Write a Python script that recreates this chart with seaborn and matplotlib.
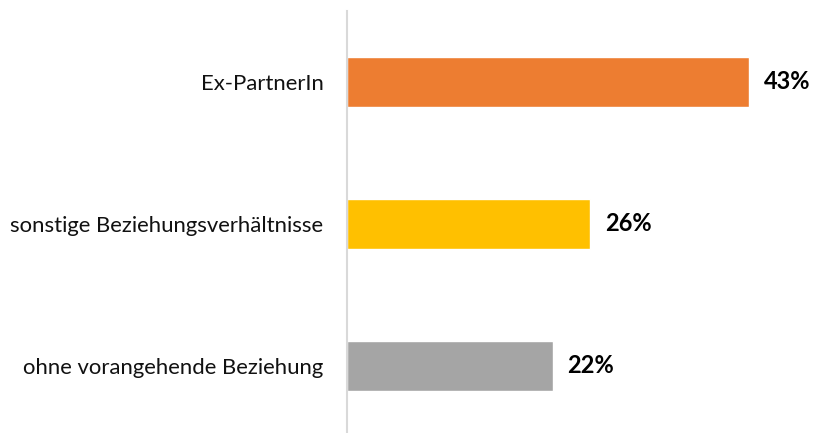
import matplotlib
matplotlib.use("Agg")
import matplotlib.pyplot as plt
import seaborn as sns
import pandas as pd

# data
categories = ["Ex-PartnerIn", "sonstige Beziehungsverhältnisse", "ohne vorangehende Beziehung"]
values = [43, 26, 22]
bar_colors = ["#ED7D31", "#FFC000", "#A5A5A5"]

df = pd.DataFrame({"kategorie": categories, "anteil": values})

sns.set_style("white")
plt.rcParams["font.family"] = ["Lato", "DejaVu Sans"]

fig = plt.figure(figsize=(8.15, 4.33), dpi=100)
ax = fig.add_axes([347 / 815, 0, 468 / 815, 422 / 433])

sns.barplot(data=df, y="kategorie", x="anteil", hue="kategorie", palette=bar_colors,
            orient="h", width=0.35, legend=False, ax=ax, saturation=1)

ax.set_xlim(0, 50)
ax.set_ylim(2.472, -0.5)
for i, v in enumerate(values):
    ax.text(v + 1.55, i, str(v) + "%", va="center", ha="left",
            fontsize=17, fontweight="bold", color="black")

ax.set_xlabel("")
ax.set_ylabel("")
ax.set_xticks([])
ax.tick_params(axis="y", length=0, pad=17, labelsize=15.9, labelcolor="#111111")
for s in ["top", "right", "bottom"]:
    ax.spines[s].set_visible(False)
ax.spines["left"].set_color("#D9D9D9")
ax.spines["left"].set_linewidth(1.5)

fig.savefig("out.png", dpi=100)
